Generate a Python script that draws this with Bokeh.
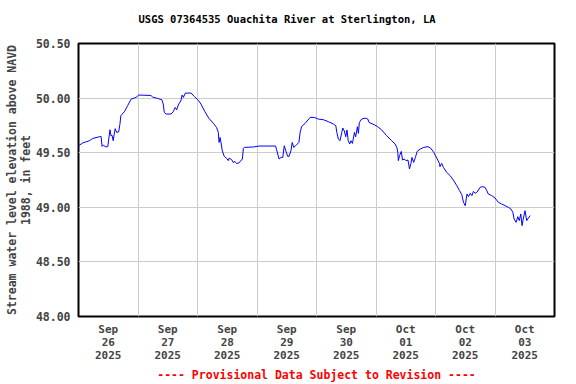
from bokeh.plotting import figure
from bokeh.models import FixedTicker, PrintfTickFormatter, Range1d, Title
from bokeh.embed import file_html
from bokeh.resources import INLINE

# hours since 2025-09-26 00:00
hours = [0, 1.7, 4.4, 5.7, 8.4, 9.1, 9.5, 10, 10.8, 11.8, 12.2, 12.7, 13.1, 13.5, 14, 14.4, 14.8, 15.4,
         16.2, 16.7, 17.1, 18.5, 19.8, 21.2, 23.2, 24.3, 29.2, 29.9, 31.9, 33.6, 34.2, 34.6, 35.3, 37.3,
         38.2, 39, 39.6, 40.4, 41.3, 41.8, 42.3, 43.1, 45.4, 46.7, 48.5, 49.4,
         51, 52.6, 54.4, 55.7, 56.4, 56.7, 57.1, 57.5, 58, 58.8, 59.8, 60.4, 60.8, 61.8, 62.4, 63.1, 63.8,
         64.7, 66.1, 66.5, 66.9, 70.5, 72.8, 79.5, 79.9, 80.9, 81.7, 82.4, 83, 83.6, 84.4, 84.9, 85.7, 86.2,
         86.8, 87.6, 88.9, 89.4, 90, 91.4, 93.4, 95.1, 96.7,
         98.8, 100.8, 102.8, 103.8, 104.2, 104.8, 105.5, 106.2, 106.6, 107.2, 107.8, 108.3, 108.8, 109.4,
         109.9, 110.5, 111.3, 111.8, 112.5, 112.9, 113.3, 114.2, 115.6, 116.7, 117.2, 119.3, 120.7, 122.3,
         124.3, 126.3, 127.7, 128.4, 128.8, 129, 129.5, 130.2, 130.7, 131.5, 132.1, 132.9, 133.5, 134.1,
         134.5, 135.2, 135.9, 136.6, 137.9, 139.3, 141, 142, 143.3, 144.7, 145.6,
         145.8, 146.5, 147.2, 148.5, 149.9, 151.2, 152.6, 153.7, 154.6, 155.3, 156, 156.7, 157.3, 158, 158.7,
         159.3, 160, 160.7, 162, 163.1, 164, 164.7, 165.3, 166.7, 168, 169.4, 170.7, 172.1, 173.4, 174.4,
         175.2, 175.7, 176.5, 177.2, 177.8, 178.4, 178.9, 179.4, 180.1, 180.8, 181.5, 182.2]

elevation = [49.564, 49.589, 49.61, 49.63, 49.646, 49.65, 49.558, 49.57, 49.555, 49.555, 49.625, 49.71, 49.655,
             49.66, 49.61, 49.67, 49.72, 49.686, 49.69, 49.76, 49.84, 49.875, 49.93, 49.99, 50.006, 50.028,
             50.024, 50.01, 49.997, 49.985, 49.945, 49.869, 49.854, 49.854, 49.875, 49.914, 49.893, 49.945,
             49.976, 50.028, 50.006, 50.046, 50.046, 50.015, 49.976, 49.945,
             49.875, 49.814, 49.77, 49.73, 49.686, 49.594, 49.64, 49.589, 49.518, 49.466, 49.448, 49.427,
             49.451, 49.436, 49.41, 49.42, 49.4, 49.406, 49.442, 49.54, 49.549, 49.552, 49.561, 49.561,
             49.527, 49.442, 49.457, 49.457, 49.564, 49.518, 49.466, 49.466, 49.518, 49.594, 49.549, 49.564,
             49.594, 49.686, 49.74, 49.768, 49.823, 49.823, 49.808,
             49.802, 49.784, 49.763, 49.747, 49.686, 49.625, 49.61, 49.686, 49.726, 49.7, 49.646, 49.708,
             49.61, 49.58, 49.61, 49.585, 49.686, 49.646, 49.738, 49.677, 49.777, 49.808, 49.817, 49.808,
             49.777, 49.756, 49.738, 49.708, 49.656, 49.61, 49.58, 49.549, 49.503, 49.427, 49.473, 49.512,
             49.433, 49.442, 49.427, 49.433, 49.351, 49.402, 49.457, 49.411, 49.457, 49.512, 49.534, 49.549,
             49.555, 49.543, 49.503, 49.442, 49.402,
             49.372, 49.402, 49.366, 49.32, 49.29, 49.25, 49.198, 49.152, 49.116, 49.045, 49.015, 49.122,
             49.097, 49.128, 49.107, 49.146, 49.128, 49.137, 49.183, 49.189, 49.183, 49.152, 49.122, 49.107,
             49.085, 49.045, 49.03, 49.015, 49.0, 48.985, 48.954, 48.893, 48.862, 48.914, 48.878, 48.939,
             48.832, 48.893, 48.969, 48.878, 48.903, 48.924]

label_hours = [12, 36, 60, 84, 108, 132, 156, 180]
date_labels = ["Sep\n26\n2025", "Sep\n27\n2025", "Sep\n28\n2025", "Sep\n29\n2025",
               "Sep\n30\n2025", "Oct\n01\n2025", "Oct\n02\n2025", "Oct\n03\n2025"]
grid_hours = [24, 48, 72, 96, 120, 144, 168]
y_ticks = [48.0, 48.5, 49.0, 49.5, 50.0, 50.5]

title_text = "USGS 07364535 Ouachita River at Sterlington, LA"
y_label = "Stream water level elevation above NAVD\n1988, in feet"
footnote = "---- Provisional Data Subject to Revision ----"

FONT = "DejaVu Sans Mono"

p = figure(width=576, height=384, output_backend="svg", toolbar_location=None,
           x_range=Range1d(0, 192), y_range=Range1d(48.0, 50.5),
           min_border_left=78, min_border_right=22, min_border_top=43, min_border_bottom=68,
           background_fill_color="white", border_fill_color="white")

# spacer panel next to the frame, then the title above it
p.add_layout(Title(text=" ", text_font_size="1px", standoff=16), "above")
p.add_layout(Title(text=title_text, align="left", offset=60, text_font=FONT, text_font_style="bold",
                   text_font_size="10.5px", text_color="black", standoff=0), "above")

p.outline_line_color = "black"
p.outline_line_width = 2

p.line(hours, elevation, line_color="#0000ff", line_width=1)

# x axis
xa = p.xaxis[0]
xa.ticker = FixedTicker(ticks=label_hours)
xa.major_label_overrides = {h: lab for h, lab in zip(label_hours, date_labels)}
xa.axis_line_color = None
xa.major_tick_line_color = None
xa.minor_tick_line_color = None
xa.major_tick_in = 0
xa.major_tick_out = 0
xa.major_label_text_font = FONT
xa.major_label_text_font_style = "bold"
xa.major_label_text_font_size = "11px"
xa.major_label_text_line_height = 1.0
xa.major_label_standoff = 6
xa.axis_label = footnote
xa.axis_label_text_color = "red"
xa.axis_label_text_font = FONT
xa.axis_label_text_font_style = "bold"
xa.axis_label_text_font_size = "11.5px"
xa.axis_label_standoff = 3

# y axis
ya = p.yaxis[0]
ya.ticker = FixedTicker(ticks=y_ticks)
ya.formatter = PrintfTickFormatter(format="%.2f")
ya.axis_line_color = None
ya.major_tick_line_color = None
ya.minor_tick_line_color = None
ya.major_tick_in = 0
ya.major_tick_out = 0
ya.major_label_text_font = FONT
ya.major_label_text_font_style = "bold"
ya.major_label_text_font_size = "11.5px"
ya.major_label_standoff = 8
ya.axis_label = y_label
ya.axis_label_text_font = FONT
ya.axis_label_text_font_style = "bold"
ya.axis_label_text_font_size = "11.5px"
ya.axis_label_text_line_height = 1.0
ya.axis_label_standoff = 0

p.xgrid.ticker = FixedTicker(ticks=grid_hours)
p.xgrid.grid_line_color = "#cccccc"
p.ygrid.grid_line_color = "#cccccc"

open("out.html", "w").write(file_html(p, INLINE))
